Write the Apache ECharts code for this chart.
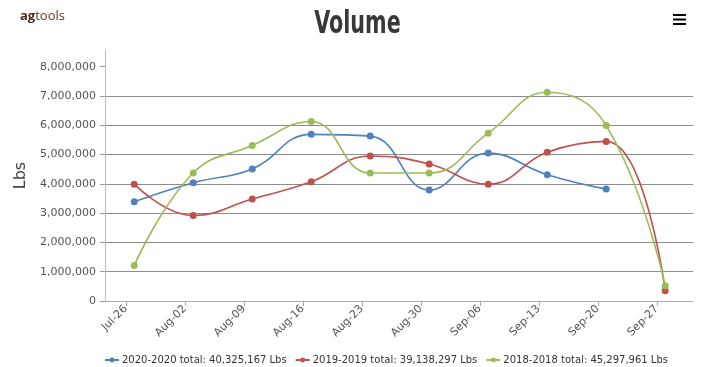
<!DOCTYPE html>
<html>
<head>
<meta charset="utf-8">
<script src="https://cdn.jsdelivr.net/npm/echarts@6/dist/echarts.min.js"></script>
<style>
html,body{margin:0;padding:0;background:#fff;}
#chart{width:713px;height:367px;}
</style>
</head>
<body>
<div id="chart"></div>
<script>
// Tick labels (weeks), positions in days from Jul-26
const tickLabels = ['Jul-26','Aug-02','Aug-09','Aug-16','Aug-23','Aug-30','Sep-06','Sep-13','Sep-20','Sep-27'];
const tickDays = [0, 7, 14, 21, 28, 35, 42, 49, 56, 63];
// Data points are recorded one day after each week label
const pointDays = [1, 8, 15, 22, 29, 36, 43, 50, 57, 64];

const seriesNames = [
  '2020-2020 total: 40,325,167 Lbs',
  '2019-2019 total: 39,138,297 Lbs',
  '2018-2018 total: 45,297,961 Lbs'
];
const values2020 = [3390000, 4040000, 4510000, 5690000, 5630000, 3790000, 5050000, 4310000, 3820000, null];
const values2019 = [3990000, 2920000, 3480000, 4070000, 4950000, 4680000, 3990000, 5080000, 5450000, 350000];
const values2018 = [1210000, 4370000, 5310000, 6130000, 4370000, 4370000, 5730000, 7130000, 5990000, 520000];
const yTicks = [0, 1000000, 2000000, 3000000, 4000000, 5000000, 6000000, 7000000, 8000000];

const colors = ['#4f81bd', '#c0504d', '#9bbb59'];
const font = '"DejaVu Sans", Verdana, sans-serif';

function pairs(vals) {
  const out = [];
  vals.forEach((v, i) => { if (v !== null) out.push([pointDays[i], v]); });
  return out;
}
function fmt(v) { return String(Math.round(v)).replace(/\B(?=(\d{3})+(?!\d))/g, ','); }

const chart = echarts.init(document.getElementById('chart'));
const allValues = [values2020, values2019, values2018];

chart.setOption({
  animation: false,
  color: colors,
  graphic: [
    {
      type: 'text', x: 357.5, y: 25, scaleX: 0.72,
      style: {
        text: 'Volume',
        align: 'center',
        verticalAlign: 'middle',
        fontFamily: '"DejaVu Sans Condensed", "DejaVu Sans", sans-serif',
        fontWeight: 'bold',
        fontSize: 32,
        fill: '#383838'
      }
    },
    {
      type: 'text', left: 20, top: 10,
      style: {
        text: '{a|ag}{b|tools}',
        rich: {
          a: { fontFamily: '"Open Sans", sans-serif', fontSize: 13, fontWeight: 'bold', fill: '#4a2a18' },
          b: { fontFamily: '"Open Sans", sans-serif', fontSize: 13, fill: '#5b3a26' }
        }
      }
    },
    { type: 'rect', shape: { x: 673, y: 14, width: 13, height: 2 }, style: { fill: '#000' } },
    { type: 'rect', shape: { x: 673, y: 18.5, width: 13, height: 2 }, style: { fill: '#000' } },
    { type: 'rect', shape: { x: 673, y: 23, width: 13, height: 2 }, style: { fill: '#000' } }
  ],
  legend: {
    top: 355,
    left: 104,
    padding: 0,
    itemWidth: 14,
    itemHeight: 6,
    itemGap: 8,
    textStyle: { fontFamily: font, fontSize: 10, color: '#333', padding: [0, 0, 0, -2] },
    data: seriesNames
  },
  grid: { left: 105, right: 20, top: 50, bottom: 66, containLabel: false },
  xAxis: {
    type: 'value',
    min: -2.47,
    max: 67.3,
    axisLine: { onZero: false, lineStyle: { color: '#aaa', width: 1 } },
    axisTick: { show: true, length: 5, customValues: tickDays, lineStyle: { color: '#aaa' } },
    axisLabel: {
      customValues: tickDays,
      rotate: 45,
      fontFamily: font,
      fontSize: 11,
      color: '#555',
      margin: 6,
      formatter: v => tickLabels[tickDays.indexOf(Math.round(v))] || ''
    },
    splitLine: { show: false }
  },
  yAxis: {
    type: 'value',
    min: 0,
    max: 8570000,
    name: 'Lbs',
    nameLocation: 'middle',
    nameRotate: 90,
    nameGap: 66,
    nameTextStyle: { fontFamily: font, fontSize: 16, color: '#444' },
    axisLine: { show: true, onZero: false, lineStyle: { color: '#c0c0c0', width: 1 } },
    axisTick: { show: true, length: 5, customValues: yTicks, lineStyle: { color: '#999' } },
    axisLabel: {
      customValues: yTicks,
      fontFamily: font,
      fontSize: 11,
      color: '#555',
      margin: 9,
      formatter: v => fmt(v)
    },
    splitLine: { show: true, showMaxLine: false, lineStyle: { color: '#8c8c8c', width: 1 } }
  },
  series: seriesNames.map((name, i) => ({
    name,
    type: 'line',
    smooth: 0.45,
    symbol: 'circle',
    symbolSize: 7,
    showSymbol: true,
    lineStyle: { width: 1.6 },
    data: pairs(allValues[i])
  }))
});
</script>
</body>
</html>
